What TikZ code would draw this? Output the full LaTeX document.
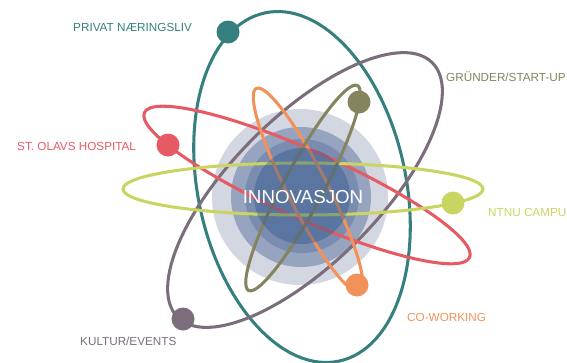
\documentclass[tikz,border=0pt]{standalone}
\usepackage{fontspec}
\setmainfont{Liberation Sans}
\definecolor{orbteal}{HTML}{35807F}
\definecolor{orbolive}{HTML}{85845E}
\definecolor{orbred}{HTML}{E65A63}
\definecolor{orblime}{HTML}{C9D461}
\definecolor{orborange}{HTML}{F2925A}
\definecolor{orbmauve}{HTML}{7B6D7C}
\definecolor{ringA}{HTML}{D2D7E2}
\definecolor{ringB}{HTML}{97A4BF}
\definecolor{ringC}{HTML}{7A8CB0}
\definecolor{ringD}{HTML}{2C558A}

\begin{document}
\begin{tikzpicture}[x=0.03cm, y=-0.03cm,
  orbit/.style={line width=2.6pt, #1},
  planet/.style={circle, fill=#1, inner sep=0pt, minimum size=0.69cm},
  sector/.style={text=#1, font=\fontsize{10}{12}\selectfont, inner sep=0pt, anchor=west}]

\useasboundingbox (0,0) rectangle (567,362);
\clip (0,0) rectangle (567,362);

% core rings
\fill[ringA] (300,197) circle [radius=88];
\fill[ringB] (301,197) circle [radius=70];
\fill[ringC] (302,196) circle [radius=57];

% orbits
\draw[orbit=orbteal, rotate around={12:(302,187)}] (302,187) ellipse [x radius=104, y radius=178];
\draw[orbit=orbmauve, rotate around={45:(305,190)}] (305,190) ellipse [x radius=180, y radius=73];
\draw[orbit=orbred, rotate around={-24:(307,185)}] (307,185) ellipse [x radius=178, y radius=34];
\draw[orbit=orblime] (303,189) ellipse [x radius=180, y radius=26];
\draw[orbit=orborange, rotate around={27:(308,190)}] (308,190) ellipse [x radius=20, y radius=114];
\draw[orbit=orbolive, rotate around={-28:(303,188)}] (303,188) ellipse [x radius=20, y radius=116];

\fill[ringD, opacity=0.4] (302,196) circle [radius=48];
\node[text=white, font=\fontsize{16}{19}\selectfont] (innovasjon) at (303,197) {INNOVASJON};

% planets
\node[planet=orbteal] (privat) at (228,32) {};
\node[planet=orbolive] (grunder) at (359,102) {};
\node[planet=orbred] (olavs) at (168,145) {};
\node[planet=orblime] (ntnu) at (453,203) {};
\node[planet=orborange] (cowork) at (357,285) {};
\node[planet=orbmauve] (kultur) at (183,319) {};

% labels
\node[sector=orbteal] (privat-txt) at (73,27) {PRIVAT NÆRINGSLIV};
\node[sector=orbolive] (grunder-txt) at (446,77) {GRÜNDER/START-UP};
\node[sector=orbred] (olavs-txt) at (17,146) {ST. OLAVS HOSPITAL};
\node[sector=orblime] (ntnu-txt) at (488,212) {NTNU CAMPUS};
\node[sector=orborange] (cowork-txt) at (407,317) {CO-WORKING};
\node[sector=orbmauve] (kultur-txt) at (80,341) {KULTUR/EVENTS};

\end{tikzpicture}
\end{document}
